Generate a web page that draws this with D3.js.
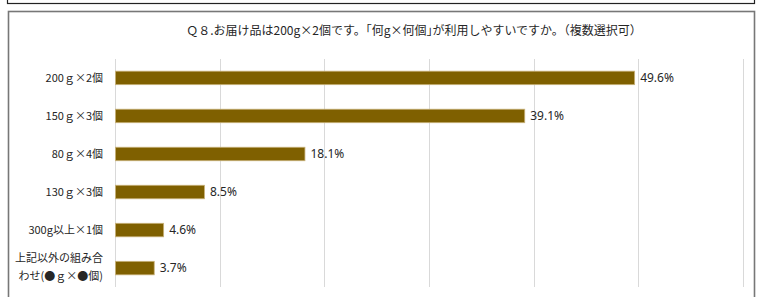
<!DOCTYPE html>
<html>
<head>
<meta charset="utf-8">
<script src="https://cdn.jsdelivr.net/npm/d3@7"></script>
<style>
  body { margin: 0; background: #fff; }
  text { font-family: "Noto Sans CJK JP", "Noto Sans", sans-serif; fill: #262626; }
</style>
</head>
<body>
<svg id="viz" width="760" height="297"></svg>
<script>
// data
var categories = ["200ｇ×2個", "150ｇ×3個", "80ｇ×4個", "130ｇ×3個", "300g以上×1個", "上記以外の組み合|わせ(●ｇ×●個)"];
var values = [49.6, 39.1, 18.1, 8.5, 4.6, 3.7];
var xTicks = [0, 10, 20, 30, 40, 50, 60];
var title = "Ｑ８.お届け品は200g×2個です。｢何g×何個｣が利用しやすいですか。（複数選択可）";

var svg = d3.select("#viz");
var margin = { top: 59, left: 115, right: 17, bottom: 10 };
var w = 760 - margin.left - margin.right,
    h = 297 - margin.top - margin.bottom;

// frames
svg.append("rect").attr("x", 7.5).attr("y", -20).attr("width", 747).attr("height", 23.5)
    .attr("fill", "none").attr("stroke", "#222").attr("stroke-width", 1.2);
svg.append("rect").attr("x", 8.5).attr("y", 11.5).attr("width", 746).attr("height", 300)
    .attr("fill", "#fff").attr("stroke", "#777").attr("stroke-width", 1.6);

var xScale = d3.scaleLinear().domain([0, 60]).range([0, w]);
var yScale = d3.scaleBand().domain(d3.range(categories.length)).range([0, h]).paddingInner(0.645).paddingOuter(0.32);

var g = svg.append("g").attr("transform", "translate(" + margin.left + "," + margin.top + ")");

// gridlines
g.selectAll(".grid").data(xTicks).enter().append("line")
    .attr("class", "grid")
    .attr("x1", function (d) { return Math.round(xScale(d)) + 0.5; })
    .attr("x2", function (d) { return Math.round(xScale(d)) + 0.5; })
    .attr("y1", 0).attr("y2", h)
    .attr("stroke", "#d9d9d9").attr("stroke-width", 1);

// bars
g.selectAll(".bar").data(values).enter().append("rect")
    .attr("class", "bar")
    .attr("x", 0.5)
    .attr("y", function (d, i) { return yScale(i); })
    .attr("width", function (d) { return xScale(d); })
    .attr("height", yScale.bandwidth())
    .attr("fill", "#7f6000")
    .attr("stroke", "#c9b27a").attr("stroke-width", 0.8);

// value labels
g.selectAll(".val").data(values).enter().append("text")
    .attr("class", "val")
    .attr("x", function (d) { return xScale(d) + 6; })
    .attr("y", function (d, i) { return yScale(i) + yScale.bandwidth() / 2; })
    .attr("dy", "0.35em")
    .style("font-family", "'Noto Sans', sans-serif")
    .style("font-size", "12px")
    .text(function (d) { return d.toFixed(1) + "%"; });

// category labels
var labels = g.selectAll(".cat").data(categories).enter().append("text")
    .attr("class", "cat")
    .attr("text-anchor", "end")
    .attr("x", -12)
    .attr("y", function (d, i) { return yScale(i) + yScale.bandwidth() / 2; })
    .style("font-size", "11px");
labels.each(function (d) {
    var parts = d.split("|");
    var t = d3.select(this);
    parts.forEach(function (p, j) {
        t.append("tspan")
            .attr("x", -12)
            .attr("dy", parts.length === 1 ? "0.35em" : (j === 0 ? "-0.55em" : "1.65em"))
            .text(p);
    });
});

// title
svg.append("text")
    .attr("x", 414).attr("y", 31)
    .attr("dy", "0.35em")
    .attr("text-anchor", "middle")
    .style("font-size", "12px")
    .text(title);
</script>
</body>
</html>
